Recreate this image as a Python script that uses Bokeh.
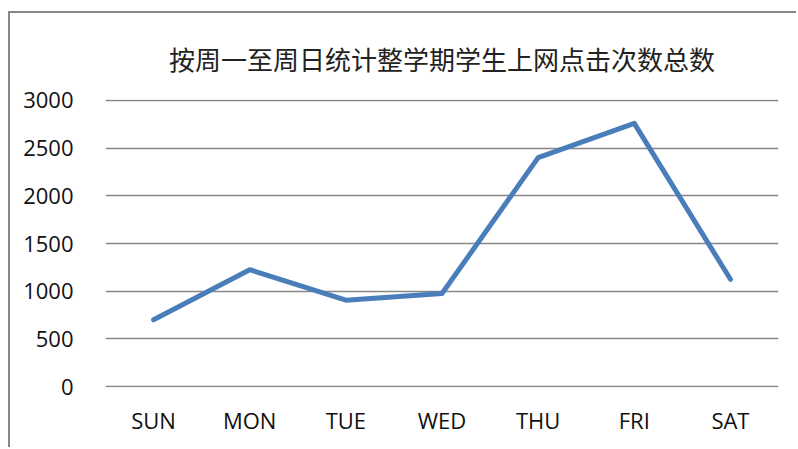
from bokeh.plotting import figure
from bokeh.models import FactorRange, Range1d, FixedTicker
from bokeh.embed import file_html
from bokeh.resources import INLINE

days = ["SUN", "MON", "TUE", "WED", "THU", "FRI", "SAT"]
clicks = [700, 1225, 905, 975, 2400, 2760, 1125]
y_ticks = [0, 500, 1000, 1500, 2000, 2500, 3000]
title_text = "按周一至周日统计整学期学生上网点击次数总数"

p = figure(
    width=788, height=436,
    x_range=FactorRange(*days, range_padding=0),
    y_range=Range1d(-10, 3010),
    output_backend="svg", toolbar_location=None,
    min_border_left=95, min_border_right=20,
    min_border_top=86, min_border_bottom=62,
)
p.styles = {"border-left": "2px solid #878787", "border-top": "2px solid #878787",
            "margin-top": "11px", "margin-left": "8px"}
p.outline_line_color = None
p.background_fill_color = "white"
p.border_fill_color = "white"

p.title.text = title_text
p.title.align = "center"
p.title.text_font = "Noto Sans CJK SC"
p.title.text_font_size = "26px"
p.title.text_font_style = "normal"
p.title.text_color = "#222222"
p.title.standoff = 46

p.line(x=days, y=clicks, line_color="#4A7EBB", line_width=5,
       line_cap="round", line_join="round")

p.yaxis.ticker = FixedTicker(ticks=y_ticks)
for ax in (p.xaxis[0], p.yaxis[0]):
    ax.axis_line_color = None
    ax.major_tick_line_color = None
    ax.minor_tick_line_color = None
    ax.major_label_text_font = "Open Sans"
    ax.major_label_text_font_size = "22px"
    ax.major_label_text_color = "#111111"
p.yaxis.major_label_standoff = 26
p.xaxis.major_label_standoff = 11

p.xgrid.grid_line_color = None
p.ygrid.grid_line_color = "#878787"
p.ygrid.grid_line_width = 1.5

open("out.html", "w").write(file_html(p, INLINE))
